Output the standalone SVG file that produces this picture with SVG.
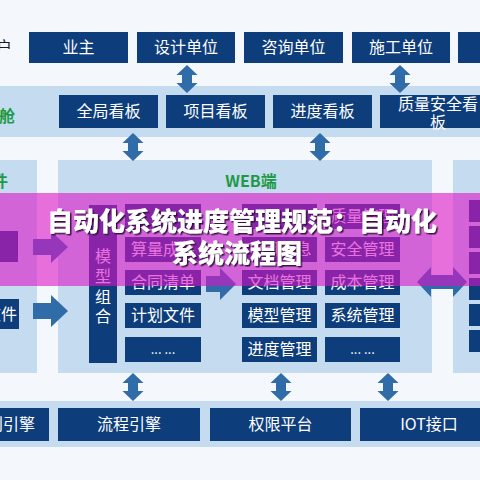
<svg xmlns="http://www.w3.org/2000/svg" width="480" height="480" viewBox="0 0 480 480">
<defs>
<style>
.bx{fill:#0d3d7b}
.t{font-family:"Noto Sans CJK SC","Noto Sans",sans-serif;font-size:16px;fill:#ffffff;text-anchor:middle}
.g{font-family:"Noto Sans CJK SC","Noto Sans",sans-serif;font-size:16px;font-weight:bold;fill:#1e9a46}
.ar{fill:#2f6ca8}
.ttl{font-family:"Noto Sans CJK SC","Noto Sans",sans-serif;font-size:26px;font-weight:900;fill:#ffffff;text-anchor:middle}
</style>
<path id="va" d="M0,-14 L10.5,-4 L5,-4 L5,4 L10.5,4 L0,14 L-10.5,4 L-5,4 L-5,-4 L-10.5,-4 Z"/>
<filter id="sh" x="-5%" y="-20%" width="110%" height="140%">
<feDropShadow dx="1.5" dy="1.5" stdDeviation="0.7" flood-color="#2a1030" flood-opacity="0.9"/>
</filter>
</defs>
<rect width="480" height="480" fill="#f4f7fb"/>
<!-- bands -->
<rect x="0" y="86" width="480" height="51" fill="#c4dbf0"/>
<rect x="0" y="160" width="37" height="213" fill="#c4dbf0"/>
<rect x="58" y="160" width="374" height="213" fill="#c4dbf0"/>
<rect x="453" y="160" width="27" height="213" fill="#c4dbf0"/>
<rect x="0" y="401" width="480" height="46" fill="#c4dbf0"/>

<!-- row 1 -->
<g id="row1-label"><text class="t" x="12" y="53" style="fill:#1a1a1a;text-anchor:end">用户</text></g>
<g id="yezhu"><rect class="bx" x="29" y="32" width="99" height="31"/><text class="t" x="78.5" y="53">业主</text></g>
<g id="sheji"><rect class="bx" x="137" y="32" width="98" height="31"/><text class="t" x="186" y="53">设计单位</text></g>
<g id="zixun"><rect class="bx" x="244" y="32" width="99" height="31"/><text class="t" x="293.5" y="53">咨询单位</text></g>
<g id="shigong"><rect class="bx" x="352" y="32" width="98" height="31"/><text class="t" x="401" y="53">施工单位</text></g>
<g id="row1-more"><rect class="bx" x="458" y="32" width="40" height="31"/></g>

<!-- band 2 -->
<g id="band2-label"><text class="g" x="15" y="122" style="text-anchor:end">驾驶舱</text></g>
<g id="quanju"><rect class="bx" x="59" y="95" width="99" height="33"/><text class="t" x="108.5" y="117">全局看板</text></g>
<g id="xiangmu"><rect class="bx" x="166" y="95" width="99" height="33"/><text class="t" x="215.5" y="117">项目看板</text></g>
<g id="jindu"><rect class="bx" x="273" y="95" width="99" height="33"/><text class="t" x="322.5" y="117">进度看板</text></g>
<g id="zhiliang"><rect class="bx" x="380" y="95" width="116" height="33"/><text class="t" x="438" y="110">质量安全看</text><text class="t" x="438" y="128">板</text></g>

<!-- lower labels -->
<g id="left-label"><text class="g" x="8" y="187" style="text-anchor:end">软件</text></g>
<g id="web-label"><text class="g" x="251" y="187" style="text-anchor:middle">WEB端</text></g>

<!-- left column -->
<g id="left-box1"><rect class="bx" x="0" y="231" width="18" height="31"/></g>
<g id="left-box2"><rect class="bx" x="0" y="299" width="19" height="30"/><text class="t" x="17" y="320" style="text-anchor:end">文件</text></g>

<!-- web boxes -->
<g id="moxingzuhe"><rect class="bx" x="89" y="205" width="28" height="158"/>
<text class="t" x="103" y="262">模</text><text class="t" x="103" y="282">型</text><text class="t" x="103" y="303">组</text><text class="t" x="103" y="322">合</text></g>
<g id="c2r1"><rect class="bx" x="125" y="204" width="76" height="25"/></g>
<g id="c2r2"><rect class="bx" x="125" y="237" width="76" height="25"/><text class="t" x="163" y="255">算量成果</text></g>
<g id="c2r3"><rect class="bx" x="125" y="270" width="76" height="25"/><text class="t" x="163" y="288">合同清单</text></g>
<g id="c2r4"><rect class="bx" x="125" y="303" width="76" height="25"/><text class="t" x="163" y="321">计划文件</text></g>
<g id="c2r5"><rect class="bx" x="125" y="337" width="76" height="25"/><text class="t" x="163" y="354" style="font-size:13px">... ...</text></g>
<g id="c3r1"><rect class="bx" x="242" y="204" width="75" height="25"/></g>
<g id="c3r2"><rect class="bx" x="242" y="237" width="75" height="25"/><text class="t" x="279.5" y="255">项目信息</text></g>
<g id="c3r3"><rect class="bx" x="242" y="270" width="75" height="25"/><text class="t" x="279.5" y="288">文档管理</text></g>
<g id="c3r4"><rect class="bx" x="242" y="303" width="75" height="25"/><text class="t" x="279.5" y="321">模型管理</text></g>
<g id="c3r5"><rect class="bx" x="242" y="337" width="75" height="25"/><text class="t" x="279.5" y="355">进度管理</text></g>
<g id="c4r1"><rect class="bx" x="325" y="204" width="75" height="25"/><text class="t" x="362.5" y="222">质量管理</text></g>
<g id="c4r2"><rect class="bx" x="325" y="237" width="75" height="25"/><text class="t" x="362.5" y="255">安全管理</text></g>
<g id="c4r3"><rect class="bx" x="325" y="270" width="75" height="25"/><text class="t" x="362.5" y="288">成本管理</text></g>
<g id="c4r4"><rect class="bx" x="325" y="303" width="75" height="25"/><text class="t" x="362.5" y="321">系统管理</text></g>
<g id="c4r5"><rect class="bx" x="325" y="337" width="75" height="25"/><text class="t" x="362.5" y="354" style="font-size:13px">... ...</text></g>

<!-- right column -->
<g id="right-boxes">
<rect class="bx" x="469" y="200" width="15" height="22"/>
<rect class="bx" x="469" y="226" width="15" height="22"/>
<rect class="bx" x="469" y="252" width="15" height="22"/>
<rect class="bx" x="469" y="278" width="15" height="22"/>
<rect class="bx" x="469" y="304" width="15" height="22"/>
<rect class="bx" x="469" y="330" width="15" height="22"/>
</g>

<!-- bottom row -->
<g id="guize"><rect class="bx" x="-60" y="408" width="109" height="33"/><text class="t" x="35" y="430" style="text-anchor:end">规则引擎</text></g>
<g id="liucheng"><rect class="bx" x="58" y="408" width="142" height="33"/><text class="t" x="129" y="430">流程引擎</text></g>
<g id="quanxian"><rect class="bx" x="210" y="408" width="141" height="33"/><text class="t" x="280.5" y="430">权限平台</text></g>
<g id="iot"><rect class="bx" x="360" y="408" width="130" height="33"/><text class="t" x="429" y="430">IOT接口</text></g>

<!-- connectors -->
<g id="connectors" class="ar">
<use href="#va" x="187" y="79"/>
<use href="#va" x="400" y="79"/>
<use href="#va" x="133" y="147"/>
<use href="#va" x="320" y="147"/>
<use href="#va" x="133" y="387"/>
<use href="#va" x="281" y="387"/>
<use href="#va" x="388" y="387"/>
<path d="M33,239 H51 V231 L68,247 L51,263 V255 H33 Z"/>
<path d="M33,303 H51 V295 L68,311 L51,327 V319 H33 Z"/>
<path d="M206,276 H220 V268 L236,284 L220,300 V292 H206 Z"/>
<path d="M417,282 L431,267 L431,275 L453,275 L453,267 L467,282 L453,297 L453,289 L431,289 L431,297 Z"/>
</g>

<!-- title overlay -->
<g id="title">
<rect x="0" y="193" width="480" height="93" fill="#dc14c8" fill-opacity="0.6"/>
<g filter="url(#sh)">
<text class="ttl" x="242" y="231">自动化系统进度管理规范：自动化</text>
<text class="ttl" x="237" y="263">系统流程图</text>
</g>
</g>
</svg>
